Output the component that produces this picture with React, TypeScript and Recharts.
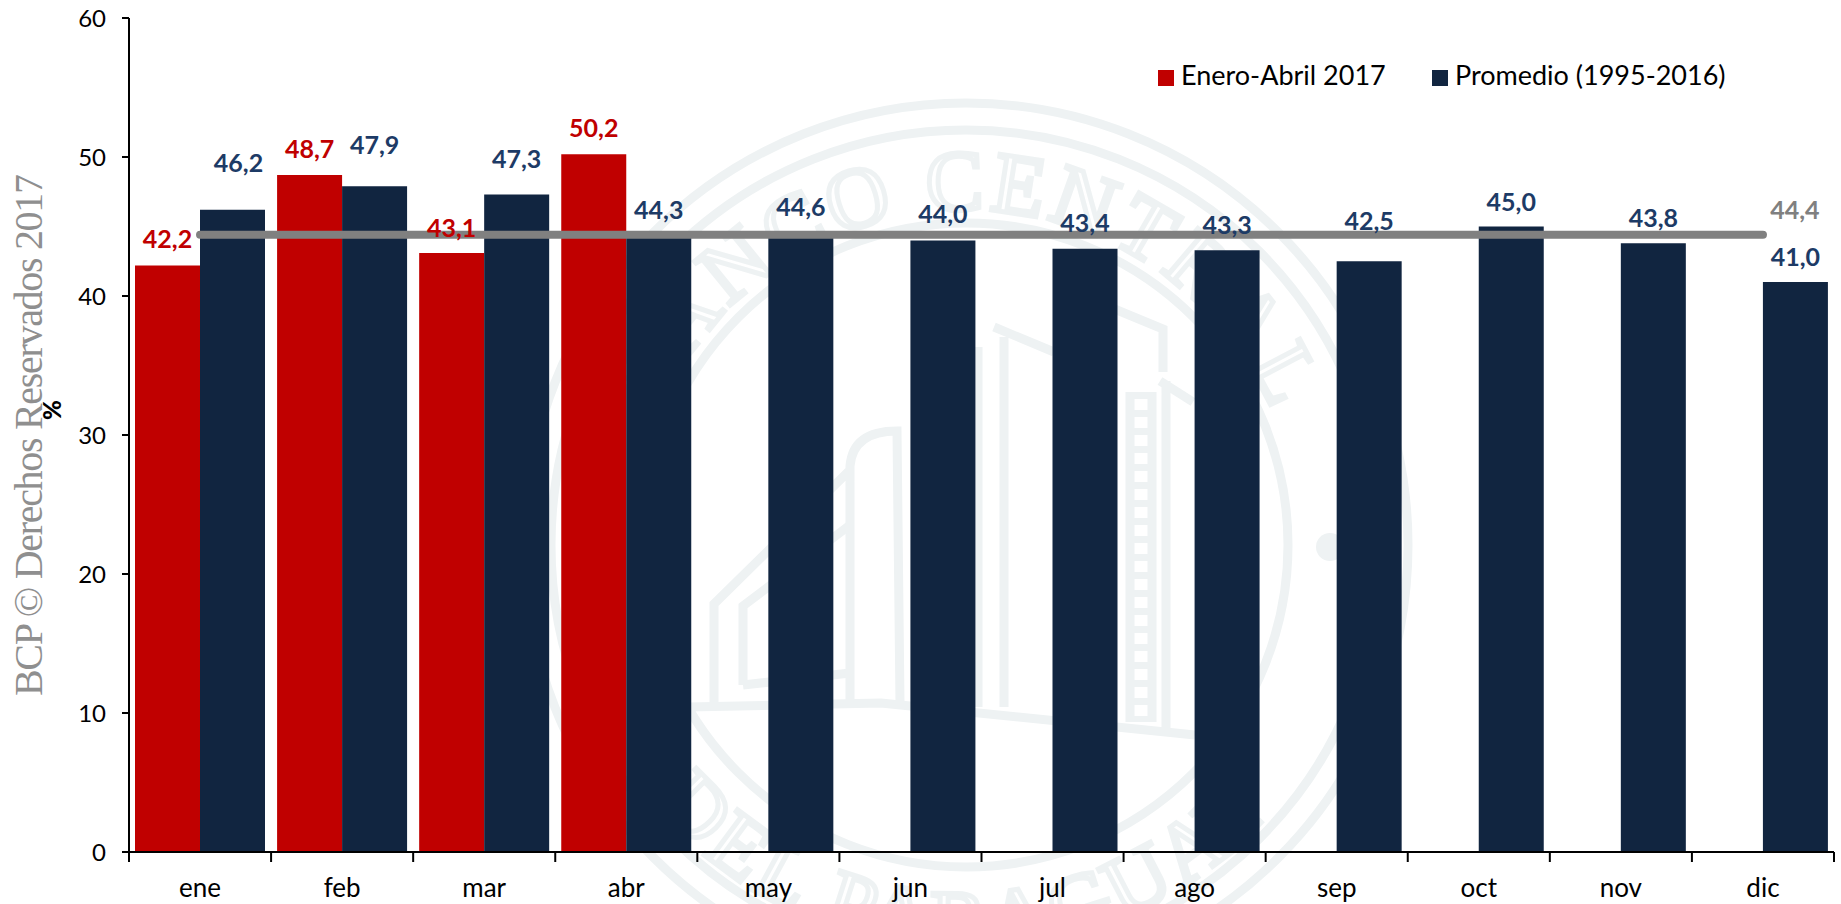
import React from 'react';
import { ComposedChart, Bar, Line, XAxis, YAxis, Legend, LabelList } from 'recharts';

const months = ['ene', 'feb', 'mar', 'abr', 'may', 'jun', 'jul', 'ago', 'sep', 'oct', 'nov', 'dic'];
const enero2017 = [42.2, 48.7, 43.1, 50.2, null, null, null, null, null, null, null, null];
const promedio = [46.2, 47.9, 47.3, 44.3, 44.6, 44.0, 43.4, 43.3, 42.5, 45.0, 43.8, 41.0];
const promedioAnual = [44.4, 44.4, 44.4, 44.4, 44.4, 44.4, 44.4, 44.4, 44.4, 44.4, 44.4, 44.4];
const yTicks = [0, 10, 20, 30, 40, 50, 60];

// the labels in the original were moved by hand, so each one has its own lift above the bar
const eneroLift = [27, 27, 26, 27];
const promedioLift = [48, 42, 37, 27, 26, 27, 27, 26, 41, 26, 26, 26];
const promedioShift = [6, 0, 0, 0, 0, 0, 0, 0, 0, 0, 0, 0];

const FONT = 'Lato, "Open Sans", sans-serif';
const RED = '#C00000';
const NAVY = '#112540';
const NAVY_TEXT = '#1D3B66';
const GREY = '#808080';
const SEAL = '#EEF2F3';

const data = months.map((mes, i) => ({
  mes,
  enero: enero2017[i],
  promedio: promedio[i],
  anual: promedioAnual[i],
}));

const fmt = (v: number) => v.toFixed(1).replace('.', ',');

const barLabel = (color: string, lift: number[], shift?: number[]) => (props: any) => {
  const { x, y, width, value, index } = props;
  if (value === null || value === undefined) return null;
  return (
    <text
      x={x + width / 2 + (shift ? shift[index] : 0)}
      y={y - lift[index]}
      textAnchor="middle"
      dominantBaseline="central"
      fill={color}
      fontFamily={FONT}
      fontWeight={700}
      fontSize={25}
    >
      {fmt(value)}
    </text>
  );
};

const lastLineLabel = (props: any) => {
  const { x, y, value, index } = props;
  if (index !== months.length - 1) return null;
  return (
    <text
      x={x + 32}
      y={y - 26}
      textAnchor="middle"
      dominantBaseline="central"
      fill={GREY}
      fontFamily={FONT}
      fontWeight={700}
      fontSize={25}
    >
      {fmt(value)}
    </text>
  );
};

// tick marks sit between the months, not under them
const MonthTick = (props: any) => {
  const { x, y, width, index, payload } = props;
  const band = width / months.length;
  return (
    <g>
      <line x1={x - band / 2} x2={x - band / 2} y1={y} y2={y + 10} stroke="#000" strokeWidth={2} />
      {index === months.length - 1 && (
        <line x1={x + band / 2} x2={x + band / 2} y1={y} y2={y + 10} stroke="#000" strokeWidth={2} />
      )}
      <text x={x} y={y + 45} textAnchor="middle" fill="#000" fontFamily={FONT} fontSize={26}>
        {payload.value}
      </text>
    </g>
  );
};

const LegendBox = () => (
  <div style={{ position: 'relative', width: 600, height: 30, fontFamily: FONT, fontSize: 27, color: '#000' }}>
    {[
      { name: 'Enero-Abril 2017', color: RED, left: 0 },
      { name: 'Promedio (1995-2016)', color: NAVY, left: 274 },
    ].map((item) => (
      <div key={item.name} style={{ position: 'absolute', left: item.left, top: 0, whiteSpace: 'nowrap', lineHeight: '30px' }}>
        <span style={{ display: 'inline-block', width: 16, height: 16, background: item.color, marginRight: 7, verticalAlign: -1 }} />
        {item.name}
      </div>
    ))}
  </div>
);

// faint seal printed behind the chart
const Seal = () => (
  <svg width={1841} height={904} style={{ position: 'absolute', left: 0, top: 0 }}>
    <defs>
      <path id="sealTop" d="M 631 545 A 335 335 0 0 1 1301 545" />
      <path id="sealBottom" d="M 561 545 A 405 405 0 0 0 1371 545" />
    </defs>
    <g fill="none" stroke={SEAL} strokeWidth={9}>
      <circle cx={966} cy={545} r={442} />
      <circle cx={966} cy={545} r={415} />
      <circle cx={966} cy={545} r={322} />
      <path d="M 688 707 L 881 703 L 1195 735" />
      <path d="M 714 702 L 714 604 L 850 470 M 850 703 L 850 466 Q 853 431 897 431 L 900 703" />
      <path d="M 743 685 L 743 606 L 850 525 M 743 685 L 850 673" />
      <path d="M 978 347 L 978 707 M 1004 337 L 1004 707 M 994 327 L 1054 352" />
      <path d="M 1100 303 L 1163 329 L 1163 372 M 1160 381 L 1193 402 M 1166 381 L 1166 730" />
      <path d="M 1130 392 L 1130 722 M 1152 392 L 1152 722" />
      <path d="M 1141 392 L 1141 722" strokeWidth={22} strokeDasharray="7 11" />
    </g>
    <circle cx={1330} cy={547} r={14} fill={SEAL} />
    <text fontFamily="Liberation Serif, serif" fontSize={86} letterSpacing={5} fill="none" stroke={SEAL} strokeWidth={5}>
      <textPath href="#sealTop" startOffset="50%" textAnchor="middle">BANCO CENTRAL</textPath>
    </text>
    <text fontFamily="Liberation Serif, serif" fontSize={86} letterSpacing={5} fill="none" stroke={SEAL} strokeWidth={5}>
      <textPath href="#sealBottom" startOffset="50%" textAnchor="middle">DEL PARAGUAY</textPath>
    </text>
  </svg>
);

const App = () => (
  <div style={{ position: 'absolute', left: 0, top: 0, width: 1841, height: 904, overflow: 'hidden', background: '#fff' }}>
    <Seal />
    <div style={{ position: 'absolute', left: 0, top: 0 }}>
      <ComposedChart
        width={1841}
        height={904}
        data={data}
        margin={{ top: 18, right: 7, bottom: 0, left: 0 }}
        barCategoryGap={6}
        barGap={0}
      >
        <XAxis
          dataKey="mes"
          interval={0}
          height={52}
          tickLine={false}
          tickSize={0}
          tickMargin={0}
          axisLine={{ stroke: '#000', strokeWidth: 2 }}
          tick={<MonthTick />}
        />
        <YAxis
          domain={[0, 60]}
          ticks={yTicks}
          interval={0}
          width={129}
          tickSize={7}
          tickMargin={16}
          axisLine={{ stroke: '#000', strokeWidth: 2 }}
          tickLine={{ stroke: '#000', strokeWidth: 2 }}
          tick={{ fill: '#000', fontFamily: FONT, fontSize: 24 }}
          label={{ value: '%', angle: -90, position: 'insideLeft', dx: 47, dy: -15, fill: '#000', fontFamily: FONT, fontWeight: 900, fontSize: 24 }}
        />
        <Legend
          layout="horizontal"
          verticalAlign="middle"
          align="center"
          content={<LegendBox />}
          wrapperStyle={{ position: 'absolute', left: 1158, top: 60, width: 600 }}
        />
        <Bar dataKey="enero" name="Enero-Abril 2017" fill={RED} isAnimationActive={false}>
          <LabelList dataKey="enero" content={barLabel(RED, eneroLift)} />
        </Bar>
        <Bar dataKey="promedio" name="Promedio (1995-2016)" fill={NAVY} isAnimationActive={false}>
          <LabelList dataKey="promedio" content={barLabel(NAVY_TEXT, promedioLift, promedioShift)} />
        </Bar>
        <Line
          dataKey="anual"
          stroke={GREY}
          strokeWidth={8}
          strokeLinecap="round"
          dot={false}
          activeDot={false}
          legendType="none"
          isAnimationActive={false}
        >
          <LabelList dataKey="anual" content={lastLineLabel} />
        </Line>
      </ComposedChart>
    </div>
    <svg width={60} height={904} style={{ position: 'absolute', left: 0, top: 0, pointerEvents: 'none' }}>
      <text
        transform="translate(42 696) rotate(-90)"
        fontFamily="Liberation Serif, serif"
        fontSize={40}
        textLength={522}
        fill="#8F8F8F"
      >
        BCP © Derechos Reservados 2017
      </text>
    </svg>
  </div>
);

export default App;
